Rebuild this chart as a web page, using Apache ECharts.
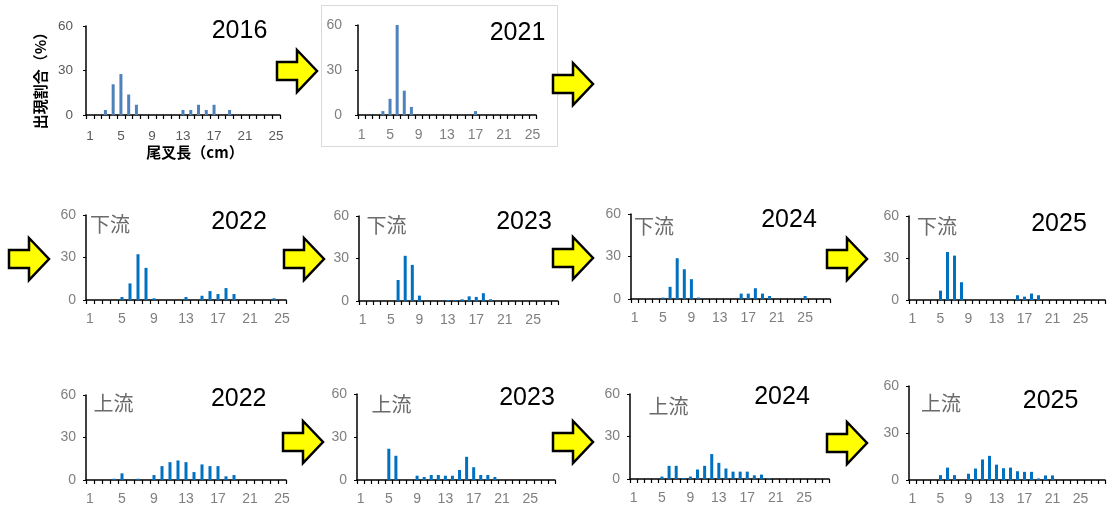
<!DOCTYPE html>
<html><head><meta charset="utf-8">
<script src="https://cdn.jsdelivr.net/npm/echarts@6/dist/echarts.min.js"></script>
<style>html,body{margin:0;padding:0;background:#fff}#c{width:1108px;height:506px}</style>
</head><body><div id="c"></div>
<script>
// ---- data ----
const cats25 = [1,2,3,4,5,6,7,8,9,10,11,12,13,14,15,16,17,18,19,20,21,22,23,24,25];
const cats28 = [1,2,3,4,5,6,7,8,9,10,11,12,13,14,15,16,17,18,19,20,21,22,23,24,25,26,27,28];
const yMin = 0, yMax = 60, yStep = 30;
const years = ['2016','2021','2022','2023','2024','2025'];
const siteDown = '下流';
const siteUp = '上流';
const yName = '出現割合（%）';
const xName = '尾叉長（cm）';

const v2016 = [0,0,3.4,20.7,27.6,13.8,6.9,0,0,0,0,0,3.4,3.4,6.9,3.4,6.9,0,3.4,0,0,0,0,0,0];
const v2021 = [0,0,0,2.6,10.8,60,16.2,5.4,0,0,0,0,0,0,0,0,2.6,0,0,0,0,0,0,0,0];
const down2022 = [0,0,0,0,2.1,11.7,32.3,22.7,1.2,0,0,0,2.1,0,3,6.3,4.2,8.4,4.2,0,0,0,0,1.2,0];
const down2023 = [0,0,0,0,0,14.8,31.9,25.5,3.8,0,0,0,0.7,0.7,1.2,3.3,2.9,5.5,1.2,0,0,0,0,0,0,0,0,0];
const down2024 = [0,0,0,0,1,8.6,28.8,21,14,1,0,0,0,0,0,3.8,3.8,7.6,3.8,2.1,0,0,0,0,2.1,0,0,0];
const down2025 = [0,0,0,0,6.7,34.3,31.7,12.7,0,0,0,0,0,0,0,3.4,2.4,4.6,3.4,0,0,0,0,0,0,0,0,0];
const up2022 = [0,0,0,0.9,4.7,0,0.9,0,3.5,9.8,12.6,13.8,12.6,5.6,11,9.8,9.8,2.6,3.5,0,0,0,0,0,0];
const up2023 = [0,0,0,0,21.8,16.9,0,0,3,2.1,3.5,3.5,3,3,7,16.2,8.9,3.5,3.5,2.1,0,0,0,0,0,0,0,0];
const up2024 = [0,0,0,0,1.7,9.3,9.3,0.7,1.7,6.7,9.3,17.6,11.4,7.4,5.2,5.2,5.2,2.6,3.1,0.7,0,0,0,0,0,0,0,0];
const up2025 = [0,0,0,0,3.1,7.9,3.1,0,4,7.3,13.1,15.4,9.8,7.5,7.9,5.6,5.2,5.2,1,2.9,2.9,0,0,0,0,0,0,0];

// ---- layout ----
const C_OLD = '#4F81BD', C_NEW = '#0070C0';
const panels = [
  {year:years[0], cats:cats25, data:v2016, color:C_OLD, g:[86,26,194,89], lab:'#595959', fs:13.5, ym:13, xm:14, t:[239.5,31]},
  {year:years[1], cats:cats25, data:v2021, color:C_OLD, g:[358,25,178,90], lab:'#7f7f7f', fs:14, ym:16, xm:13, t:[517.5,33.5]},
  {year:years[2], cats:cats25, data:down2022, color:C_NEW, g:[86,215,200,85], lab:'#7f7f7f', fs:14, ym:10, xm:12, t:[239,222], site:siteDown, s:[110,224]},
  {year:years[3], cats:cats28, data:down2023, color:C_NEW, g:[359,216,199,85], lab:'#7f7f7f', fs:14, ym:10, xm:12, t:[524,222.5], site:siteDown, s:[386.5,225.5]},
  {year:years[4], cats:cats28, data:down2024, color:C_NEW, g:[631,214,199,85], lab:'#7f7f7f', fs:14, ym:10, xm:12, t:[789,220.5], site:siteDown, s:[654,226.7]},
  {year:years[5], cats:cats28, data:down2025, color:C_NEW, g:[909,216,196,84], lab:'#7f7f7f', fs:14, ym:10, xm:12, t:[1059,224], site:siteDown, s:[937,226.7]},
  {year:years[2], cats:cats25, data:up2022, color:C_NEW, g:[86,395,200,85], lab:'#7f7f7f', fs:14, ym:10, xm:12, t:[238.7,398.7], site:siteUp, s:[113.5,403]},
  {year:years[3], cats:cats28, data:up2023, color:C_NEW, g:[357,394,198,86], lab:'#7f7f7f', fs:14, ym:10, xm:12, t:[527,398], site:siteUp, s:[391.5,404]},
  {year:years[4], cats:cats28, data:up2024, color:C_NEW, g:[630,394,199,85], lab:'#7f7f7f', fs:14, ym:10, xm:12, t:[782,396.7], site:siteUp, s:[668.5,406.5]},
  {year:years[5], cats:cats28, data:up2025, color:C_NEW, g:[909,386,196,95], lab:'#7f7f7f', fs:14, ym:10, xm:12, t:[1050.6,401], site:siteUp, s:[941,403]}
];
const arrows = [[277,71],[553,84],[9,259],[284,259],[553,258],[827,259],[283,442],[553,442],[827,443]];

const LAT = "'Liberation Sans', Arial, sans-serif";
const CJK = "'Noto Sans CJK JP', sans-serif";

const grid=[], xAxis=[], yAxis=[], series=[], graphic=[];
panels.forEach((p,i)=>{
  grid.push({left:p.g[0], top:p.g[1], width:p.g[2], height:p.g[3], containLabel:false});
  xAxis.push({type:'category', gridIndex:i, data:p.cats, boundaryGap:true,
    axisLine:{lineStyle:{color:'#000', width:1.5}},
    axisTick:{show:true, interval:0, length:4, lineStyle:{color:'#000', width:1.2}},
    axisLabel:{interval:3, color:p.lab, fontSize:p.fs, fontFamily:LAT, margin:p.xm}});
  yAxis.push({type:'value', gridIndex:i, min:yMin, max:yMax, interval:yStep,
    splitLine:{show:false},
    axisLine:{show:true, lineStyle:{color:'#000', width:1.5}},
    axisTick:{show:true, length:3, lineStyle:{color:'#000'}},
    axisLabel:{color:p.lab, fontSize:p.fs, fontFamily:LAT, margin:p.ym}});
  series.push({type:'bar', xAxisIndex:i, yAxisIndex:i, data:p.data, barWidth:3,
    itemStyle:{color:p.color}, silent:true, animation:false});
  graphic.push({type:'text', x:p.t[0], y:p.t[1], z:10,
    style:{text:p.year, font:"25px "+LAT, fill:'#000', align:'center', verticalAlign:'middle'}});
  if(p.site){
    graphic.push({type:'text', x:p.s[0], y:p.s[1], z:10,
      style:{text:p.site, font:"20px "+CJK, fill:'#6b6b6b', align:'center', verticalAlign:'middle'}});
  }
});
// axis names for the first panel
graphic.push({type:'text', x:40, y:77, rotation:Math.PI/2, z:10,
  style:{text:yName, font:"bold 15px "+CJK, fill:'#000', align:'center', verticalAlign:'middle'}});
graphic.push({type:'text', x:195, y:152, z:10,
  style:{text:xName, font:"bold 15px "+CJK, fill:'#000', align:'center', verticalAlign:'middle'}});
// frame around 2021
graphic.push({type:'rect', z:1, shape:{x:321.5, y:5.5, width:236, height:141},
  style:{fill:null, stroke:'#d9d9d9', lineWidth:1}});
// arrows
arrows.forEach(a=>{
  const x0=a[0], cy=a[1];
  graphic.push({type:'polygon', z:10, shape:{points:[[x0,cy-9],[x0+20,cy-9],[x0+20,cy-21],[x0+40,cy],[x0+20,cy+21],[x0+20,cy+9],[x0,cy+9]]},
    style:{fill:'#FFFF00', stroke:'#000', lineWidth:2.5, lineJoin:'miter'}});
});

const chart = echarts.init(document.getElementById('c'), null, {renderer:'canvas'});
chart.setOption({animation:false, backgroundColor:'#fff', grid, xAxis, yAxis, series, graphic});
</script></body></html>
